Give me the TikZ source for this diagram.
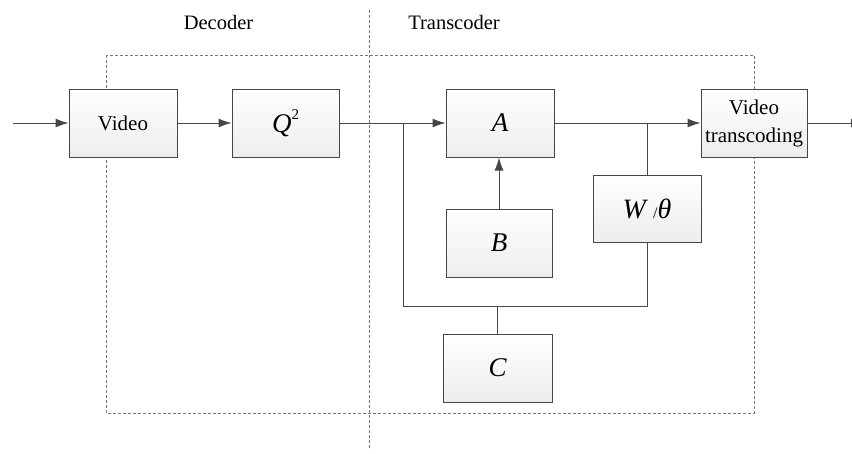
\documentclass[tikz,border=0pt]{standalone}
\usepackage{fontspec}
\setmainfont{Liberation Serif}
\usetikzlibrary{arrows.meta}
\definecolor{ln}{RGB}{70,70,70}
\definecolor{dsh}{RGB}{120,120,120}
\tikzset{
  blk/.style={draw=ln, line width=1pt, top color=white, bottom color=black!7,
    inner sep=0pt, anchor=center, font=\fontsize{21}{28}\selectfont, align=center},
  mth/.style={font=\fontsize{27}{28}\selectfont\itshape},
  conn/.style={draw=ln, line width=1pt},
  arr/.style={conn, -{Latex[length=13pt,width=9pt]}},
  frame/.style={draw=dsh, line width=0.8pt, dash pattern=on 3pt off 2pt},
  lbl/.style={font=\fontsize{20.5}{24}\selectfont, anchor=base}
}
\begin{document}
\begin{tikzpicture}[x=1pt,y=-1pt]
\useasboundingbox (0,0) rectangle (852,453);
\clip (0,0) rectangle (852,453);
% frames
\draw[frame] (106,55) rectangle (754,413);
\draw[frame] (369,10) -- (369,450);
\node[lbl] (dec) at (218.5,29) {Decoder};
\node[lbl] (trc) at (454,29) {Transcoder};
% blocks
\node[blk, minimum width=108pt, minimum height=68pt] (video) at (123,123) {Video};
\node[blk, minimum width=107pt, minimum height=68pt] (q) at (285.5,123) {\fontsize{27}{28}\selectfont\textit{Q}\raisebox{0.5em}{\fontsize{15}{15}\selectfont 2}};
\node[blk, mth, minimum width=108pt, minimum height=68pt] (A) at (500,123) {A};
\node[blk, mth, minimum width=106pt, minimum height=68pt] (B) at (499,243) {B};
\node[blk, minimum width=106pt, minimum height=68pt] (vt) at (754,123) {Video\\transcoding};
\node[blk, minimum width=108pt, minimum height=67pt] (W) at (647,208.5) {\fontsize{28}{28}\selectfont\textit{W}\hspace{5pt}{\fontsize{16}{16}\selectfont /}\textit{θ}};
\node[blk, mth, minimum width=109pt, minimum height=68pt] (C) at (497.5,368) {C};
% coordinates
\coordinate (in) at (13,123);
\coordinate (out) at (864,123);
\coordinate (j1) at (403,123);
\coordinate (j2) at (647,123);
\coordinate (lpL) at (403,306);
\coordinate (lpR) at (647,306);
\coordinate (lpC) at (497.5,306);
% connectors
\draw[arr] (in) -- (video.west);
\draw[arr] (video.east) -- (q.west);
\draw[arr] (q.east) -- (A.west);
\draw[arr] (A.east) -- (vt.west);
\draw[arr] (vt.east) -- (out);
\draw[arr] (B.north) -- (B.north |- A.south);
\draw[conn] (j2) -- (W.north);
\draw[conn] (j1) -- (lpL) -- (lpR) -- (W.south);
\draw[conn] (C.north) -- (lpC);
\end{tikzpicture}
\end{document}
